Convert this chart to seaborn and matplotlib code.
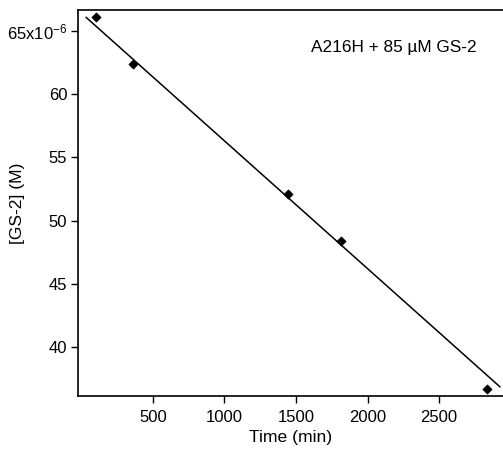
import matplotlib
matplotlib.use('Agg')
import matplotlib.pyplot as plt
import seaborn as sns
import pandas as pd

# measured points, concentration in units of 1e-6 M
time_min = [104, 362, 1443, 1815, 2832]
conc_uM = [66.1, 62.37, 52.13, 48.4, 36.71]

# linear fit line endpoints
fit_time = [34, 2925]
fit_conc = [66.08, 36.87]

x_ticks = [500, 1000, 1500, 2000, 2500]
y_ticks = [40, 45, 50, 55, 60, 65]
y_ticklabels = ['40', '45', '50', '55', '60', '65x10$^{-6}$']

sns.set_style('ticks')
plt.rcParams['font.family'] = ['Liberation Sans', 'DejaVu Sans']
plt.rcParams['mathtext.fontset'] = 'custom'
plt.rcParams['mathtext.rm'] = 'Liberation Sans'
plt.rcParams['mathtext.it'] = 'Liberation Sans'
plt.rcParams['text.color'] = 'black'
plt.rcParams['axes.labelcolor'] = 'black'
plt.rcParams['xtick.color'] = 'black'
plt.rcParams['ytick.color'] = 'black'

fig = plt.figure(figsize=(5.03, 4.54), dpi=100)
ax = fig.add_axes([0.1557, 0.1278, 0.8443, 0.8508])

pts = pd.DataFrame({'Time': time_min, 'Conc': conc_uM})
fit = pd.DataFrame({'Time': fit_time, 'Conc': fit_conc})

sns.lineplot(x='Time', y='Conc', data=fit, ax=ax, color='black', linewidth=1.1)
sns.scatterplot(x='Time', y='Conc', data=pts, ax=ax, color='black', marker='D',
                s=22, edgecolor='black', linewidth=0.5, zorder=3)

ax.set_xlim(-20, 2946)
ax.set_ylim(36.15, 66.68)
ax.set_xticks(x_ticks)
ax.set_xticklabels([str(t) for t in x_ticks], fontsize=12)
ax.set_yticks(y_ticks)
ax.set_yticklabels(y_ticklabels, fontsize=12)
ax.tick_params(direction='out', length=5, width=1, color='black')
ax.tick_params(axis='x', pad=5)
ax.tick_params(axis='y', pad=3)

for side in ['left', 'bottom', 'top']:
    ax.spines[side].set_visible(True)
    ax.spines[side].set_linewidth(1.2)
    ax.spines[side].set_color('black')
ax.spines['right'].set_visible(False)

ax.set_xlabel('Time (min)', fontsize=12.6)
ax.set_ylabel('[GS-2] (M)', fontsize=12.6)
ax.xaxis.set_label_coords(0.5, -0.1087)
ax.yaxis.set_label_coords(-0.1443, 0.5)
ax.xaxis.label.set_va('center')
ax.yaxis.label.set_va('center')

fig.text(311 / 503, 1 - 47.5 / 454, 'A216H + 85 µM GS-2', fontsize=12.4,
         ha='left', va='center')

fig.savefig('out.png', dpi=100)
